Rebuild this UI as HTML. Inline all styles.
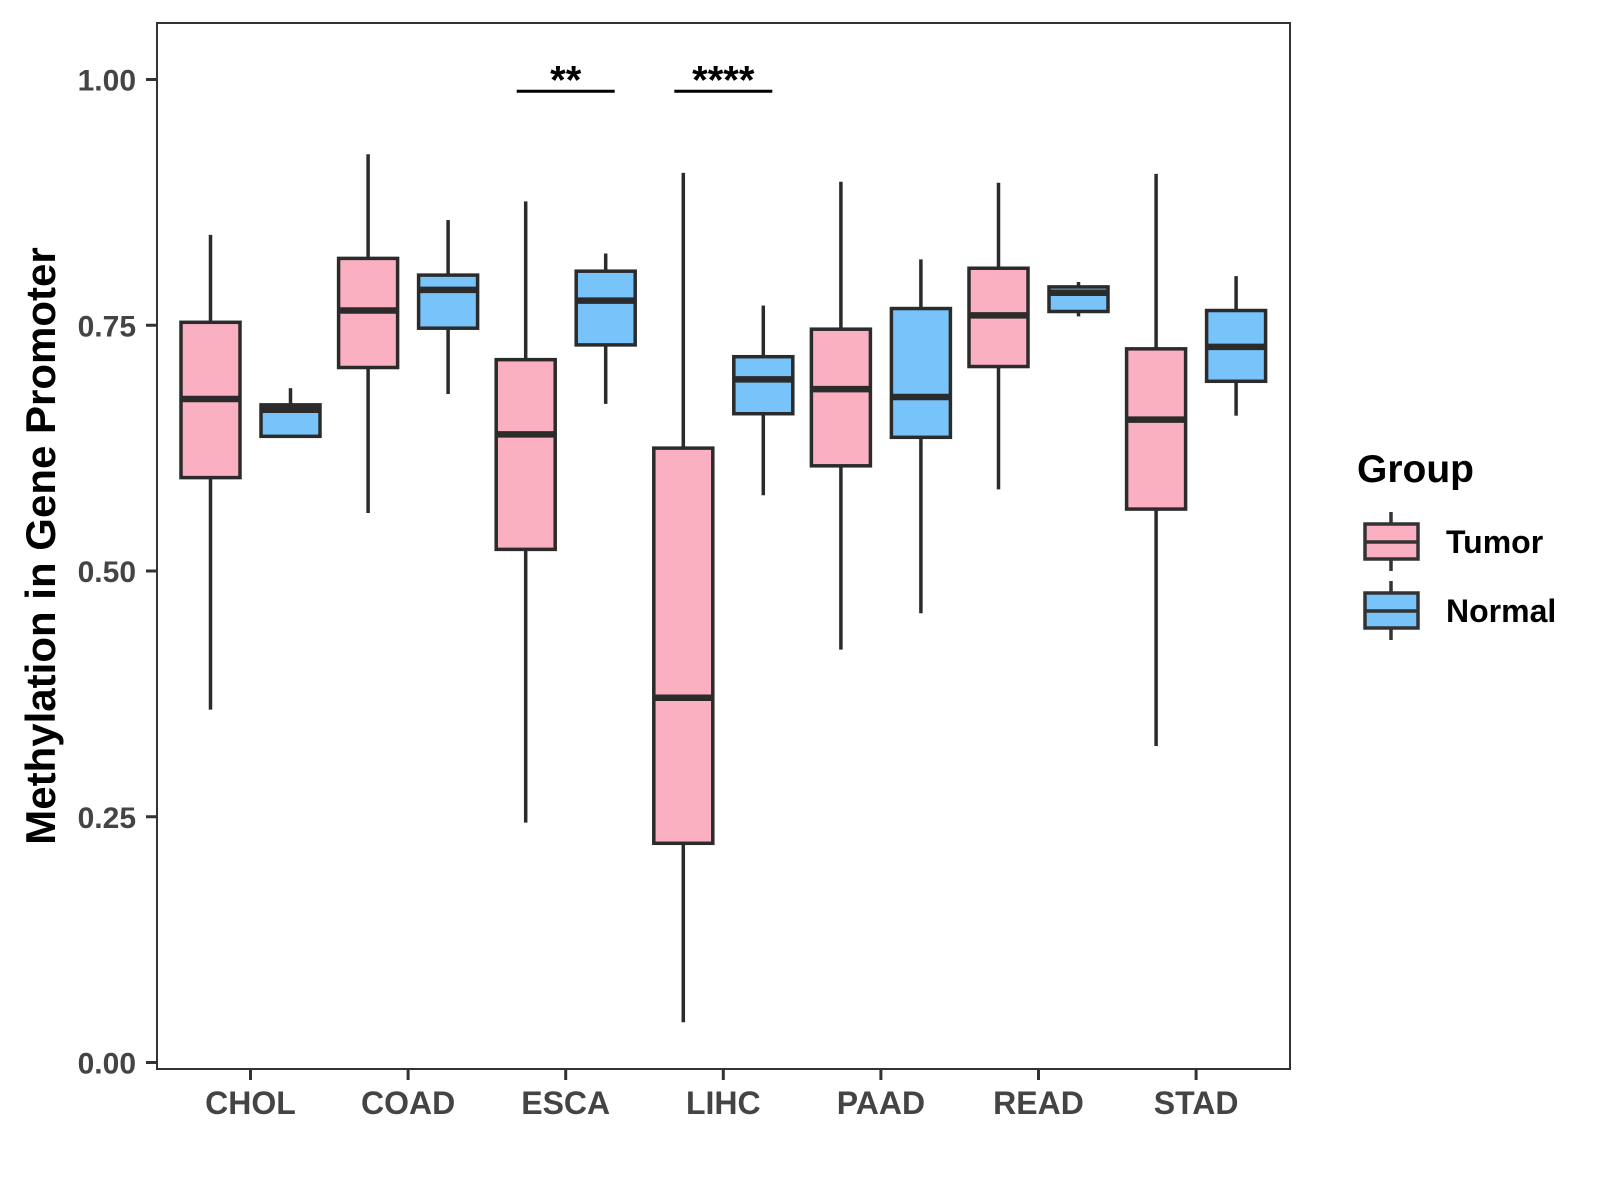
<!DOCTYPE html>
<html><head><meta charset="utf-8"><style>
body{margin:0;background:#fff}
svg{display:block;font-family:"Liberation Sans",Arial,sans-serif}
</style></head><body>
<svg id="chart" width="1600" height="1200" viewBox="0 0 1600 1200">
<rect x="157" y="23" width="1133" height="1046" fill="#fff" stroke="#333" stroke-width="2"/>
<g id="marks"></g>
<text transform="translate(55,546) rotate(-90)" text-anchor="middle" font-size="42" font-weight="bold" fill="#000">Methylation in Gene Promoter</text>
<g>
<text x="1357" y="482" font-size="39" font-weight="bold">Group</text>
<g>
<line x1="1391" y1="512" x2="1391" y2="571" stroke="#333" stroke-width="3.5"/>
<rect x="1365" y="524" width="53" height="35" fill="#FBB0C2" stroke="#333" stroke-width="3.5"/>
<line x1="1365" y1="542" x2="1418" y2="542" stroke="#333" stroke-width="3.5"/>
<text x="1446" y="553" font-size="32" font-weight="bold">Tumor</text></g>
<g>
<line x1="1391" y1="581" x2="1391" y2="640" stroke="#333" stroke-width="3.5"/>
<rect x="1365" y="593" width="53" height="35" fill="#78C3F9" stroke="#333" stroke-width="3.5"/>
<line x1="1365" y1="611" x2="1418" y2="611" stroke="#333" stroke-width="3.5"/>
<text x="1446" y="622" font-size="32" font-weight="bold">Normal</text></g>
</g>
</svg>
<script>
const categories=["CHOL","COAD","ESCA","LIHC","PAAD","READ","STAD"];
const tumorMin=[0.359,0.559,0.244,0.041,0.420,0.583,0.322];
const tumorQ1=[0.595,0.707,0.522,0.223,0.607,0.708,0.563];
const tumorMed=[0.675,0.765,0.639,0.371,0.685,0.760,0.654];
const tumorQ3=[0.753,0.818,0.715,0.625,0.746,0.808,0.726];
const tumorMax=[0.842,0.924,0.876,0.905,0.896,0.895,0.904];
const normalMin=[0.637,0.680,0.670,0.577,0.457,0.759,0.658];
const normalQ1=[0.637,0.747,0.730,0.660,0.636,0.764,0.693];
const normalMed=[0.664,0.786,0.775,0.695,0.677,0.783,0.728];
const normalQ3=[0.669,0.801,0.805,0.718,0.767,0.789,0.765];
const normalMax=[0.686,0.857,0.823,0.770,0.817,0.794,0.800];
const yTicks=[0,0.25,0.5,0.75,1.0];
const yTickLabels=["0.00","0.25","0.50","0.75","1.00"];
const sigCats=["ESCA","LIHC"];
const sigLabels=["**","****"];
const sigLevel=0.988;

const NS="http://www.w3.org/2000/svg";
const g=document.getElementById('marks');
const y=v=>1062.5-v*983;
const x=i=>250.5+i*157.6;
const mk=(t,a,p)=>{const e=document.createElementNS(NS,t);for(const k in a)e.setAttribute(k,a[k]);(p||g).appendChild(e);return e;};
function box(cx,mn,q1,md,q3,mx,fill,name){
  const grp=mk('g',{});
  
  
  mk('line',{x1:cx,x2:cx,y1:y(mx),y2:y(q3),stroke:'#2b2b2b','stroke-width':3.5},grp);
  mk('line',{x1:cx,x2:cx,y1:y(q1),y2:y(mn),stroke:'#2b2b2b','stroke-width':3.5},grp);
  mk('rect',{x:cx-29.5,y:y(q3),width:59,height:y(q1)-y(q3),fill:fill,stroke:'#2b2b2b','stroke-width':3.5},grp);
  mk('line',{x1:cx-29.5,x2:cx+29.5,y1:y(md),y2:y(md),stroke:'#2b2b2b','stroke-width':6.5},grp);
}
categories.forEach((c,i)=>{
  box(x(i)-40,tumorMin[i],tumorQ1[i],tumorMed[i],tumorQ3[i],tumorMax[i],'#FBB0C2','box-tumor-'+c.toLowerCase());
  box(x(i)+40,normalMin[i],normalQ1[i],normalMed[i],normalQ3[i],normalMax[i],'#78C3F9','box-normal-'+c.toLowerCase());
  const tk=mk('line',{x1:x(i),x2:x(i),y1:1069,y2:1080,stroke:'#333','stroke-width':3});
  
  
  const t=mk('text',{x:x(i),y:1114,'text-anchor':'middle','font-size':32,'font-weight':'bold',fill:'#444'});
  t.textContent=c;
  
  
});
yTicks.forEach((v,i)=>{
  const tk=mk('line',{x1:146,x2:157,y1:y(v),y2:y(v),stroke:'#333','stroke-width':3});
  
  
  const t=mk('text',{x:136,y:y(v)+11,'text-anchor':'end','font-size':30,'font-weight':'bold',fill:'#444'});
  t.textContent=yTickLabels[i];
  
  
});
sigCats.forEach((c,k)=>{
  const i=categories.indexOf(c);
  const l=mk('line',{x1:x(i)-49,x2:x(i)+49,y1:y(sigLevel),y2:y(sigLevel),stroke:'#000','stroke-width':3});
  
  
  const t=mk('text',{x:x(i),y:y(sigLevel)+2,'text-anchor':'middle','font-size':40,'font-weight':'bold',fill:'#000'});
  t.textContent=sigLabels[k];
  
  
});
</script>
</body></html>
